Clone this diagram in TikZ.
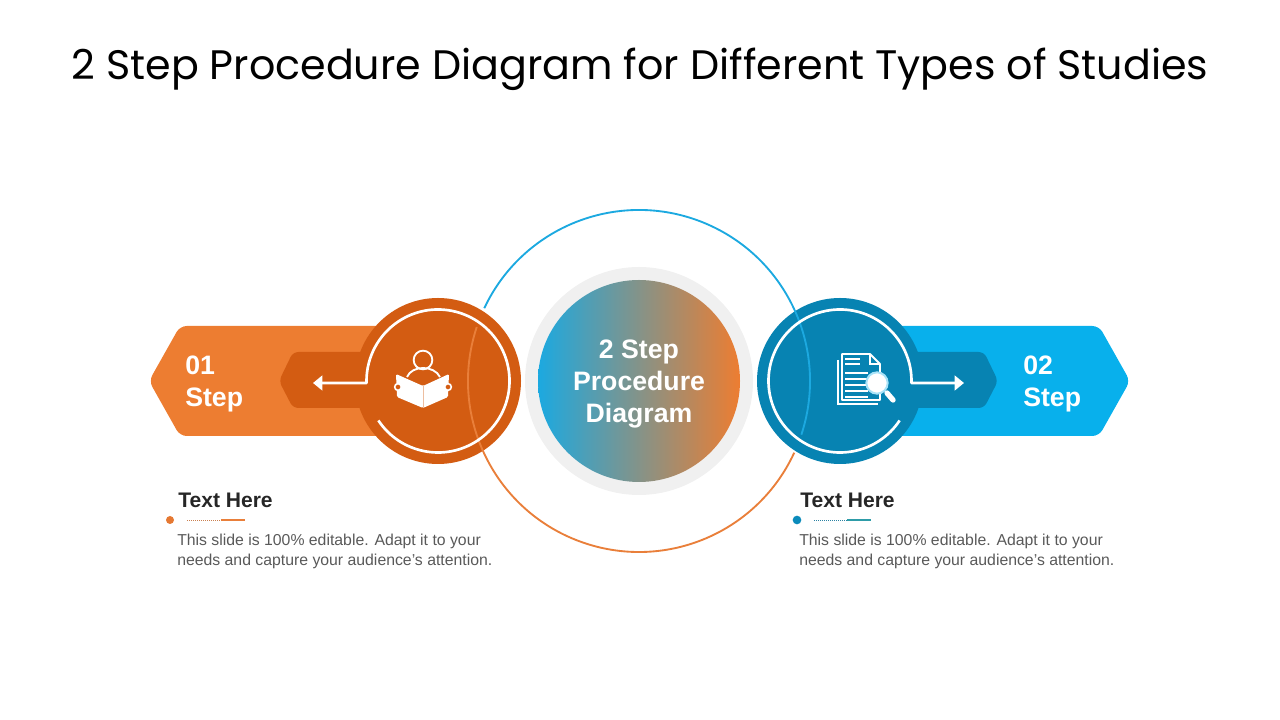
\documentclass[tikz,border=0pt]{standalone}
\usepackage{fontspec}
\setmainfont{Liberation Sans}
\newfontfamily\titlefont{Poppins}
\usetikzlibrary{arrows.meta}
\definecolor{bandOrange}{HTML}{ED7D31}
\definecolor{darkOrange}{HTML}{D35C12}
\definecolor{bandBlue}{HTML}{08B0EC}
\definecolor{darkBlue}{HTML}{0783B2}
\definecolor{arcBlue}{HTML}{1CA9E0}
\definecolor{arcOrange}{HTML}{E97F3A}
\definecolor{ringGray}{HTML}{F0F0F0}
\definecolor{bodyGray}{HTML}{595959}
\definecolor{headBlack}{HTML}{262626}
\definecolor{tealLine}{HTML}{2E9CA8}
\begin{document}
\begin{tikzpicture}[x=0.75pt, y=0.75pt, inner sep=0pt]
    \useasboundingbox (0,0) rectangle (1280,720);

    \tikzstyle{myCir}=[circle, minimum size=124.5pt];
    \tikzstyle{myRing}=[draw=white, line width=2pt, line join=round, -{Triangle[length=7pt,width=11pt]}];
    \tikzstyle{myStep}=[text=white, font=\bfseries\fontsize{20}{24}\selectfont, align=left, anchor=west];
    \tikzstyle{myHead}=[text=headBlack, font=\bfseries\fontsize{15.8}{18}\selectfont, anchor=west];
    \tikzstyle{myBody}=[text=bodyGray, font=\fontsize{11.85}{14.5}\selectfont, align=left, anchor=north west];
    \tikzstyle{myIcon}=[draw=white, line width=1.4pt];

    \node[text=black, font=\titlefont\fontsize{30.9}{36}\selectfont] (title) at (640,651) {2 Step Procedure Diagram for Different Types of Studies};

    \fill[bandOrange, rounded corners=5pt] (420,394) -- (180,394) -- (149,339) -- (180,284) -- (420,284) -- cycle;
    \fill[bandBlue, rounded corners=5pt] (860,394) -- (1099,394) -- (1130,339) -- (1099,284) -- (860,284) -- cycle;
    \fill[darkOrange, rounded corners=4pt] (400,368) -- (293,368) -- (279,339) -- (293,312) -- (400,312) -- cycle;
    \fill[darkBlue, rounded corners=4pt] (880,368) -- (984,368) -- (998,339) -- (984,312) -- (880,312) -- cycle;

    \node[myCir, fill=ringGray, minimum size=171pt] (outer) at (639,339) {};
    \node[circle, minimum size=151.5pt, left color=arcBlue, right color=bandOrange] (middle) at (639,339) {};
    \node[myCir, fill=darkOrange] (stepA) at (438,339) {};
    \node[myCir, fill=darkBlue] (stepB) at (840,339) {};

    \draw[arcBlue, line width=1.4pt] (639,339) ++(154.8:171) arc[start angle=154.8, end angle=-18.3, radius=171];
    \draw[arcOrange, line width=1.4pt] (639,339) ++(161.6:171) arc[start angle=161.6, end angle=335.2, radius=171];

    \coordinate (tipA) at (313,337);
    \coordinate (tipB) at (964,337);
    \draw[myRing] (stepA) ++(213.5:71.5) arc[start angle=213.5, end angle=540, radius=71.5] -- ++(0,-2) -- (tipA);
    \draw[myRing] (stepB) ++(-33.5:71.5) arc[start angle=-33.5, end angle=-360, radius=71.5] -- ++(0,-2) -- (tipB);

    \node[myIcon, circle, minimum size=14pt] (head) at (423,360) {};
    \draw[myIcon] (407,343) .. controls (412,355) and (434,355) .. (440,343);
    \fill[white, rounded corners=1pt] (396,346) -- (423,334) -- (449,346) -- (448,323) -- (423,312) -- (397,323) -- cycle;
    \draw[darkOrange!40!white, line width=0.5pt] (423,334) -- (423,312);
    \node[circle, fill=darkOrange, draw=white, line width=1.2pt, minimum size=5pt] (thumbA) at (398,333) {};
    \node[circle, fill=darkOrange, draw=white, line width=1.2pt, minimum size=5pt] (thumbB) at (448,333) {};

    \draw[myIcon] (838,360) -- (838,316) -- (878,316);
    \draw[myIcon, fill=darkBlue, line join=round] (842,366) -- (870,366) -- (880,356) -- (880,320) -- (842,320) -- cycle;
    \draw[myIcon, line width=0.9pt] (870,366) -- (870,356) -- (880,356);
    \foreach \y in {361,356} \draw[myIcon] (845,\y) -- (860,\y);
    \foreach \y in {347,341,335,329,323} \draw[myIcon] (845,\y) -- (868,\y);
    \draw[white, line width=4pt, line cap=round] (887,327) -- (893,320);
    \node[circle, fill=white, draw=bandBlue!35!white, line width=1.5pt, minimum size=16pt] (lens) at (877,337) {};

    \node[myStep] (labelA) at (185,336) {01\\Step};
    \node[myStep] (labelB) at (1023,336) {02\\Step};
    \node[myStep, align=center, anchor=center] (labelC) at (639,336) {2 Step\\Procedure\\Diagram};

    \node[myHead] (headA) at (178,220) {Text Here};
    \node[myHead] (headB) at (800,220) {Text Here};
    \node[circle, fill=arcOrange!80!darkOrange, minimum size=6pt] (dotA) at (170,200) {};
    \node[circle, fill=darkBlue!80!arcBlue, minimum size=6.5pt] (dotB) at (797,200) {};
    \coordinate (lineA) at (187,200);
    \coordinate (midA) at (221,200);
    \coordinate (endA) at (245,200);
    \coordinate (lineB) at (814,200);
    \coordinate (midB) at (847,200);
    \coordinate (endB) at (871,200);
    \draw[arcOrange!70!gray, line width=0.5pt, densely dotted] (lineA) -- (midA);
    \draw[arcOrange, line width=0.8pt] (midA) -- (endA);
    \draw[darkBlue!70!gray, line width=0.5pt, densely dotted] (lineB) -- (midB);
    \draw[tealLine, line width=0.8pt] (midB) -- (endB);
    \node[myBody] (bodyA) at (177,186) {This slide is 100\% editable. Adapt it to your\\needs and capture your audience's attention.};
    \node[myBody] (bodyB) at (799,186) {This slide is 100\% editable. Adapt it to your\\needs and capture your audience's attention.};
\end{tikzpicture}
\end{document}
